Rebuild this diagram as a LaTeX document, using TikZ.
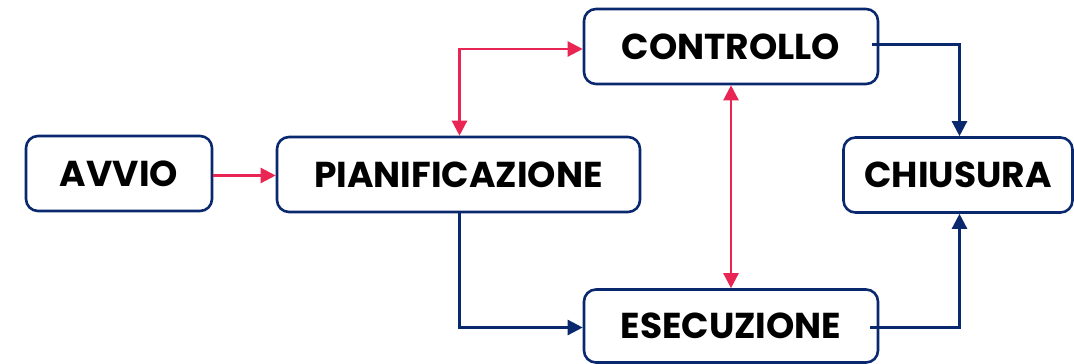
\documentclass[tikz,border=0pt]{standalone}
\usepackage{fontspec}
\setmainfont{Poppins}
\usetikzlibrary{arrows.meta}
\definecolor{navy}{RGB}{10,40,110}
\definecolor{crimson}{RGB}{233,38,83}
\begin{document}
\begin{tikzpicture}[x=1pt,y=-1pt,
  box/.style={draw=navy,line width=2.6pt,rounded corners=12pt,fill=white,inner sep=0pt,
    font=\fontsize{36}{40}\selectfont\bfseries},
  redarrow/.style={draw=crimson,line width=2.4pt,-{Triangle[length=15pt,width=15pt]}},
  redboth/.style={draw=crimson,line width=2.4pt,{Triangle[length=15pt,width=15pt]}-{Triangle[length=15pt,width=15pt]}},
  bluearrow/.style={draw=navy,line width=2.4pt,-{Triangle[length=15pt,width=15pt]}}]
\useasboundingbox (0,0) rectangle (1074,364);
\node[box,minimum width=186pt,minimum height=75pt] (avvio) at (119,173.5) {AVVIO};
\node[box,minimum width=363pt,minimum height=75pt] (pian) at (458.5,174.5) {PIANIFICAZIONE};
\node[box,minimum width=294pt,minimum height=75pt] (contr) at (731,46.5) {CONTROLLO};
\node[box,minimum width=294pt,minimum height=73pt] (esec) at (731,326) {ESECUZIONE};
\node[box,minimum width=229pt,minimum height=75pt] (chius) at (958,175) {CHIUSURA};
\coordinate (k1) at (459.5,49);
\coordinate (k2) at (459.5,327.5);
\coordinate (k3) at (959.5,44.5);
\coordinate (k4) at (959.5,327.5);
\draw[redarrow] (avvio.east |- 0,175.5) -- (pian.west |- 0,175.5);
\draw[redboth] (pian.north -| k1) -- (k1) -- (contr.west |- k1);
\draw[redboth] (contr.south) -- (esec.north);
\draw[bluearrow] (pian.south -| k2) -- (k2) -- (esec.west |- k2);
\draw[bluearrow] ([xshift=-7pt]contr.east |- k3) -- (k3) -- (chius.north -| k3);
\draw[bluearrow] ([xshift=-9pt]esec.east |- k4) -- (k4) -- (chius.south -| k4);
\end{tikzpicture}
\end{document}
